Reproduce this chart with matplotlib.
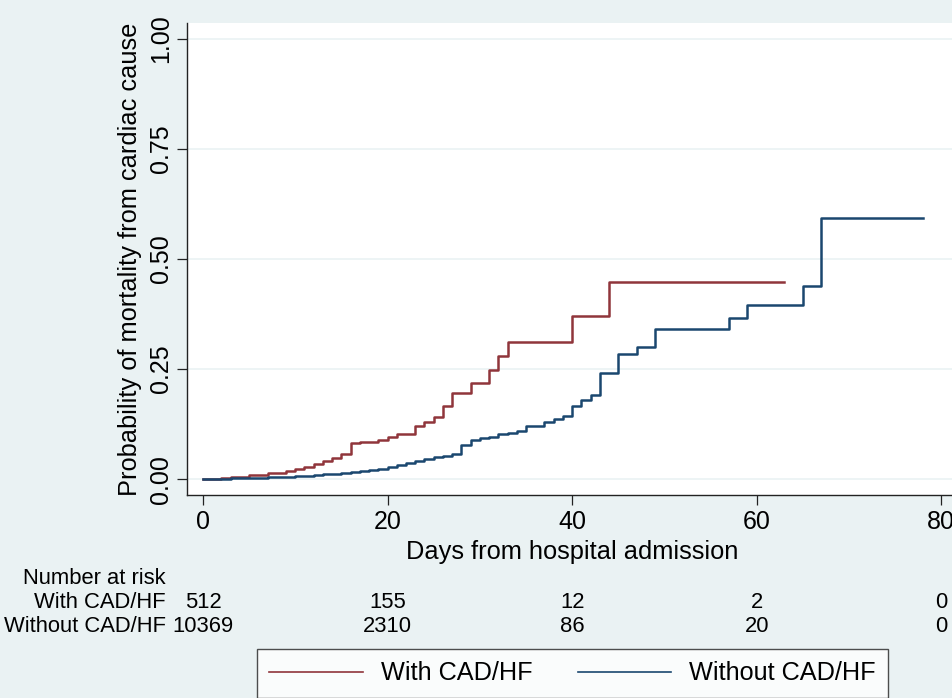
import matplotlib
matplotlib.use("Agg")
import matplotlib.pyplot as plt
from matplotlib.transforms import blended_transform_factory

plt.rcParams['font.family'] = ['Liberation Sans', 'DejaVu Sans']

# Step-function data (time in days, cumulative probability)
with_days = [0, 2, 3, 5, 7, 9, 10, 11, 12, 13, 14, 15, 16, 17, 19, 20, 21, 23, 24, 25,
             26, 27, 29, 31, 32, 33, 40, 44, 63]
with_prob = [0.0, 0.003, 0.006, 0.010, 0.014, 0.018, 0.022, 0.028, 0.035, 0.041, 0.048,
             0.057, 0.081, 0.085, 0.089, 0.095, 0.102, 0.120, 0.130, 0.142, 0.167, 0.196,
             0.219, 0.248, 0.280, 0.312, 0.370, 0.448, 0.448]

without_days = [0, 1, 2, 3, 4, 5, 6, 7, 8, 9, 10, 11, 12, 13, 14, 15, 16, 17, 18, 19, 20,
                21, 22, 23, 24, 25, 26, 27, 28, 29, 30, 31, 32, 33, 34, 35, 37, 38, 39, 40,
                41, 42, 43, 45, 47, 49, 57, 59, 65, 67, 78]
without_prob = [0.0, 0.0005, 0.001, 0.0015, 0.002, 0.0025, 0.003, 0.004, 0.005, 0.006,
                0.007, 0.008, 0.009, 0.011, 0.012, 0.014, 0.016, 0.018, 0.020, 0.022, 0.027,
                0.032, 0.036, 0.042, 0.045, 0.051, 0.053, 0.058, 0.077, 0.090, 0.094, 0.096,
                0.102, 0.105, 0.109, 0.121, 0.129, 0.136, 0.144, 0.167, 0.180, 0.190, 0.240,
                0.284, 0.301, 0.340, 0.367, 0.396, 0.439, 0.592, 0.592]

group_labels = ["With CAD/HF", "Without CAD/HF"]
x_ticks = [0, 20, 40, 60, 80]
y_ticks = [0.0, 0.25, 0.50, 0.75, 1.00]
y_tick_labels = ["0.00", "0.25", "0.50", "0.75", "1.00"]
risk_with = ["512", "155", "12", "2", "0"]
risk_without = ["10369", "2310", "86", "20", "0"]

RED = "#90353b"
BLUE = "#1a476f"
BG = "#eaf2f3"

W, H = 952, 698
fig = plt.figure(figsize=(W / 100, H / 100), dpi=100, facecolor=BG)
ax = fig.add_axes([187 / W, (H - 495) / H, 770 / W, 472 / H])
ax.set_facecolor("white")

ax.step(with_days, with_prob, where="post", color=RED, lw=1.8, label=group_labels[0])
ax.step(without_days, without_prob, where="post", color=BLUE, lw=1.8, label=group_labels[1])

ax.set_xlim(-1.73, 81.7)
ax.set_ylim(-0.036, 1.036)

ax.set_yticks(y_ticks)
ax.set_yticklabels(y_tick_labels, rotation=90, va="center", fontsize=18)
ax.set_xticks(x_ticks)
ax.set_xticklabels([str(t) for t in x_ticks], fontsize=18)
ax.tick_params(axis="both", direction="out", length=7, width=0.9, color="#222222", pad=3)
ax.tick_params(axis="x", pad=4)
ax.yaxis.grid(True, color=BG, lw=1.2)
ax.set_axisbelow(True)

for s in ["top", "right"]:
    ax.spines[s].set_visible(False)
for s in ["left", "bottom"]:
    ax.spines[s].set_color("#222222")
    ax.spines[s].set_linewidth(1.0)

ax.set_ylabel("Probability of mortality from cardiac cause", fontsize=18.3, labelpad=5)
ax.set_xlabel("Days from hospital admission", fontsize=18.3, labelpad=4)

# Number at risk table
tr = blended_transform_factory(ax.transData, fig.transFigure)
fs_r = 15.8
fig.text(166 / W, (H - 579) / H, "Number at risk", ha="right", va="center", fontsize=fs_r)
fig.text(166 / W, (H - 603) / H, group_labels[0], ha="right", va="center", fontsize=fs_r)
fig.text(166 / W, (H - 626) / H, group_labels[1], ha="right", va="center", fontsize=fs_r)
for t, a, b in zip(x_ticks, risk_with, risk_without):
    ax.text(t, (H - 603) / H, a, transform=tr, ha="center", va="center", fontsize=fs_r, clip_on=False)
    ax.text(t, (H - 626) / H, b, transform=tr, ha="center", va="center", fontsize=fs_r, clip_on=False)

leg = fig.legend(loc="center", bbox_to_anchor=(572.5 / W, (H - 673.5) / H), ncol=2,
                 fontsize=18.2, frameon=True, fancybox=False, edgecolor="#222222",
                 handlelength=3.7, handletextpad=0.7, columnspacing=1.8,
                 borderpad=0.5, borderaxespad=0)
leg.get_frame().set_linewidth(1.0)
leg.get_frame().set_facecolor("white")
for line in leg.get_lines():
    line.set_linewidth(1.2)

fig.savefig("out.png", dpi=100, facecolor=BG)
